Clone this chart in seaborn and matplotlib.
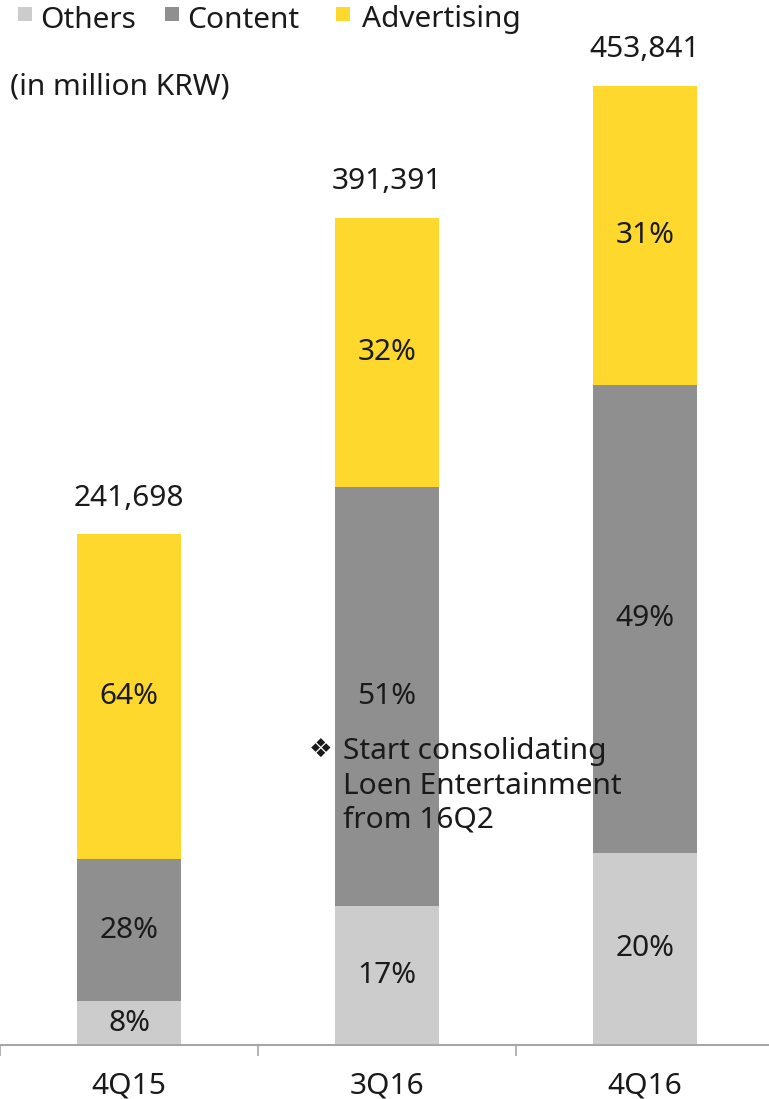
import matplotlib
matplotlib.use("Agg")
import matplotlib.pyplot as plt
import seaborn as sns
import numpy as np
import pandas as pd
from matplotlib.patches import Rectangle

sns.set_theme(style="white")
plt.rcParams['font.family'] = ['Noto Sans', 'DejaVu Sans']

categories = ["4Q15", "3Q16", "4Q16"]
others = [20800, 65800, 90900]
content = [67200, 198300, 221500]
advertising = [153698, 127291, 141441]
totals_labels = ["241,698", "391,391", "453,841"]
others_pct = ["8%", "17%", "20%"]
content_pct = ["28%", "51%", "49%"]
adv_pct = ["64%", "32%", "31%"]
series_names = ["Others", "Content", "Advertising"]

c_others = "#CCCCCC"
c_content = "#8F8F8F"
c_adv = "#FED82C"
colors = [c_others, c_content, c_adv]
txt = "#1A1A1A"

o = np.array(others, float)
c = np.array(content, float)
a = np.array(advertising, float)
df = pd.DataFrame({"cat": categories, "o": o, "oc": o + c, "tot": o + c + a})

W, H = 769, 1099
fig = plt.figure(figsize=(W / 100, H / 100), dpi=100)
ax = fig.add_axes([0 / W, 54 / H, 774 / W, 1045 / H])

sns.barplot(data=df, x="cat", y="tot", color=c_adv, saturation=1, width=0.4, ax=ax, linewidth=0)
sns.barplot(data=df, x="cat", y="oc", color=c_content, saturation=1, width=0.4, ax=ax, linewidth=0)
sns.barplot(data=df, x="cat", y="o", color=c_others, saturation=1, width=0.4, ax=ax, linewidth=0)

ax.set_xlim(-0.5, 2.5)
ax.set_ylim(0, 494500)
ax.set_xlabel("")
ax.set_ylabel("")
ax.set_yticks([])
for s in ["top", "right", "left"]:
    ax.spines[s].set_visible(False)
ax.spines["bottom"].set_color("#A6A6A6")
ax.spines["bottom"].set_linewidth(1.5)

fs = 21.5
ax.set_xticks(range(len(categories)))
ax.set_xticklabels(categories, fontsize=fs, color=txt)
ax.tick_params(axis="x", which="major", length=0, pad=19)
ax.set_xticks([-0.5, 0.5, 1.5, 2.5], minor=True)
ax.tick_params(axis="x", which="minor", length=8, width=1.2, color="#A6A6A6", direction="out", bottom=True)

for i in range(len(categories)):
    ax.text(i, o[i] / 2, others_pct[i], ha="center", va="center", fontsize=fs, color=txt)
    ax.text(i, o[i] + c[i] / 2, content_pct[i], ha="center", va="center", fontsize=fs, color=txt)
    ax.text(i, o[i] + c[i] + a[i] / 2, adv_pct[i], ha="center", va="center", fontsize=fs, color=txt)
    ax.annotate(totals_labels[i], xy=(i, o[i] + c[i] + a[i]), xytext=(0, 26),
                textcoords="offset points", ha="center", va="center", fontsize=fs, color=txt)

# legend (small squares + labels)
sq_x = [18, 165, 336]
lab_x = [40, 187, 362]
for name, col, sx, lx in zip(series_names, colors, sq_x, lab_x):
    fig.patches.append(Rectangle((sx / W, 1 - 21 / H), 14 / W, 14 / H, transform=fig.transFigure,
                                 facecolor=col, edgecolor="none"))
    fig.text(lx / W, 1 - 20 / H, name, ha="left", va="center", fontsize=fs, color=txt)

fig.text(10 / W, 1 - 87 / H, "(in million KRW)", ha="left", va="center", fontsize=fs, color=txt)

# note
fig.text(321 / W, 1 - 750 / H, "\u2756", ha="center", va="center", fontsize=19, color=txt,
         family=["DejaVu Sans"])
for k, line in enumerate(["Start consolidating", "Loen Entertainment", "from 16Q2"]):
    fig.text(343 / W, 1 - (752 + 34 * k) / H, line, ha="left", va="center", fontsize=fs, color=txt)

fig.savefig("out.png", dpi=100)
